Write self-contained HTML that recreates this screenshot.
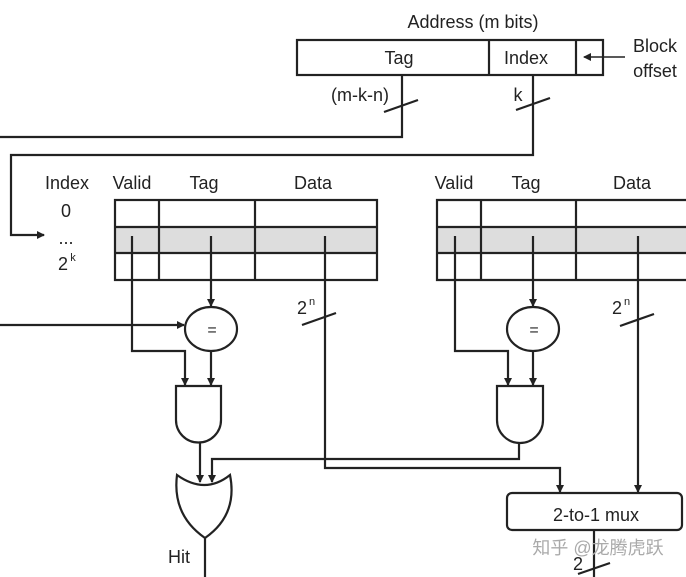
<!DOCTYPE html>
<html><head><meta charset="utf-8"><style>
body{margin:0;background:#fff;width:686px;height:577px;overflow:hidden}
svg{display:block}
text{font-family:"Liberation Sans","Noto Sans CJK SC",sans-serif;fill:#222}
</style></head><body>
<svg width="686" height="577" viewBox="0 0 686 577" xmlns="http://www.w3.org/2000/svg">
<defs><marker id="a" markerWidth="8" markerHeight="8" refX="7" refY="4" orient="auto" markerUnits="userSpaceOnUse"><path d="M0,0 L8,4 L0,8 z" fill="#222"/></marker></defs>
<g stroke="#222" stroke-width="2.2" fill="none">
<rect x="297" y="40" width="306" height="35" fill="#fff"/>
<line x1="489" y1="40" x2="489" y2="75"/>
<line x1="576" y1="40" x2="576" y2="75"/>
<line x1="625" y1="57" x2="584" y2="57" stroke-width="1.5" marker-end="url(#a)"/>
<polyline points="402,75 402,137 0,137"/>
<line x1="384" y1="112" x2="418" y2="100"/>
<polyline points="533,75 533,155 11,155 11,235 44,235" marker-end="url(#a)"/>
<line x1="516" y1="110" x2="550" y2="98"/>
<rect x="115" y="227" width="262" height="26" fill="#ddd" stroke="none"/>
<rect x="115" y="200" width="262" height="80"/>
<line x1="115" y1="227" x2="377" y2="227"/><line x1="115" y1="253" x2="377" y2="253"/>
<line x1="159" y1="200" x2="159" y2="280"/><line x1="255" y1="200" x2="255" y2="280"/>
<rect x="437" y="227" width="260" height="26" fill="#ddd" stroke="none"/>
<polyline points="690,200 437,200 437,280 690,280"/>
<line x1="437" y1="227" x2="690" y2="227"/><line x1="437" y1="253" x2="690" y2="253"/>
<line x1="481" y1="200" x2="481" y2="280"/><line x1="576" y1="200" x2="576" y2="280"/>
<line x1="211" y1="236" x2="211" y2="306" marker-end="url(#a)"/>
<line x1="0" y1="325" x2="184" y2="325" marker-end="url(#a)"/>
<ellipse cx="211" cy="329" rx="26" ry="22" fill="#fff"/>
<polyline points="132,236 132,351 185,351 185,385" marker-end="url(#a)"/>
<line x1="211" y1="351" x2="211" y2="385" marker-end="url(#a)"/>
<path d="M176,386 L221,386 L221,420 A22.5,22.5 0 0 1 176,420 Z" fill="#fff"/>
<line x1="200" y1="442" x2="200" y2="482" marker-end="url(#a)"/>
<polyline points="325,236 325,468 560,468 560,492" marker-end="url(#a)"/>
<line x1="302" y1="325" x2="336" y2="313"/>
<line x1="533" y1="236" x2="533" y2="306" marker-end="url(#a)"/>
<ellipse cx="533" cy="329" rx="26" ry="22" fill="#fff"/>
<polyline points="455,236 455,351 508,351 508,385" marker-end="url(#a)"/>
<line x1="533" y1="351" x2="533" y2="385" marker-end="url(#a)"/>
<path d="M497,386 L543,386 L543,420 A23,23 0 0 1 497,420 Z" fill="#fff"/>
<polyline points="519,442 519,459 212,459 212,482" marker-end="url(#a)"/>
<line x1="638" y1="236" x2="638" y2="492" marker-end="url(#a)"/>
<line x1="620" y1="326" x2="654" y2="314"/>
<path d="M177,475 Q205,495 230,475 Q238,515 205,538 Q172,515 177,475 Z" fill="#fff"/>
<line x1="205" y1="538" x2="205" y2="577"/>
<rect x="507" y="493" width="175" height="37" rx="5" fill="#fff"/>
<line x1="594" y1="530" x2="594" y2="577"/>
<line x1="578" y1="574" x2="610" y2="563"/>
</g>
<g font-size="18" text-anchor="middle">
<text x="473" y="28">Address (m bits)</text>
<text x="399" y="64">Tag</text>
<text x="526" y="64">Index</text>
<text x="655" y="52">Block</text>
<text x="655" y="77">offset</text>
<text x="360" y="101">(m-k-n)</text>
<text x="518" y="101">k</text>
<text x="67" y="189">Index</text>
<text x="132" y="189">Valid</text>
<text x="204" y="189">Tag</text>
<text x="313" y="189">Data</text>
<text x="454" y="189">Valid</text>
<text x="526" y="189">Tag</text>
<text x="632" y="189">Data</text>
<text x="66" y="217">0</text>
<text x="66" y="244">...</text>
<text x="63" y="270">2</text>
<text x="73" y="261" font-size="11">k</text>
<text x="302" y="314">2</text>
<text x="312" y="305" font-size="11">n</text>
<text x="617" y="314">2</text>
<text x="627" y="305" font-size="11">n</text>
<text x="212" y="335" font-size="16">=</text>
<text x="534" y="335" font-size="16">=</text>
<text x="596" y="521">2-to-1 mux</text>
<text x="179" y="563">Hit</text>
<text x="578" y="570">2</text>
<text x="598" y="554" style="fill:#aaa">知乎 @龙腾虎跃</text>
</g>
</svg>
</body></html>
